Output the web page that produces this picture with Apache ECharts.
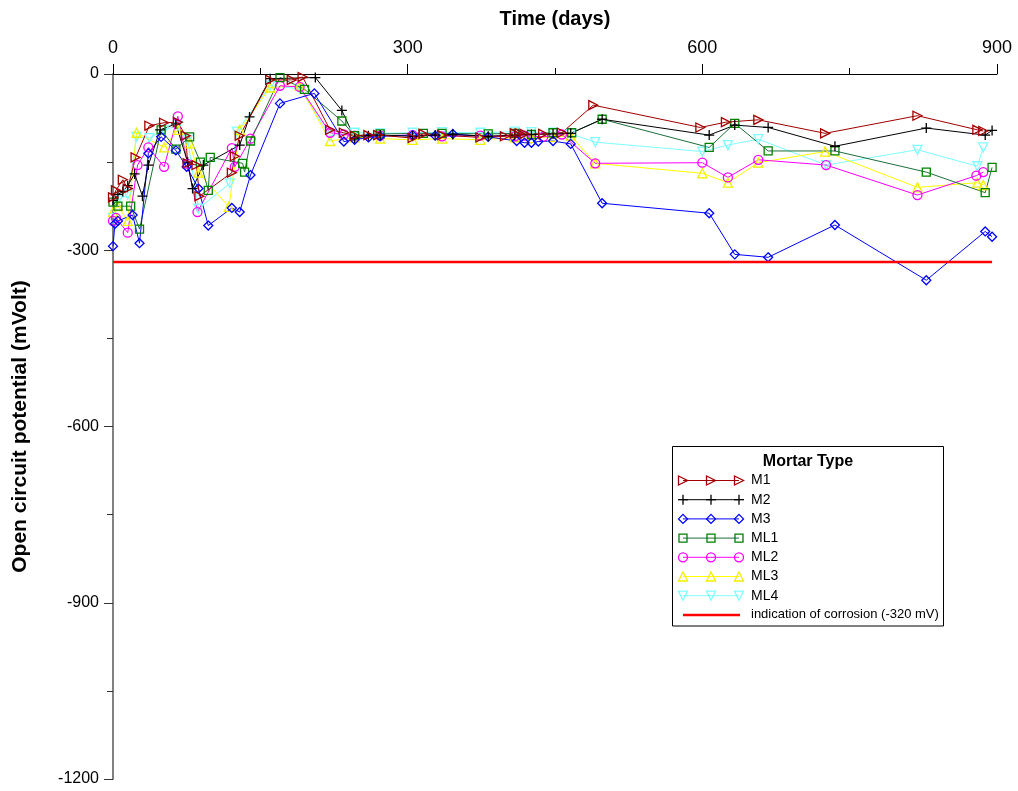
<!DOCTYPE html>
<html><head><meta charset="utf-8">
<script src="https://cdn.jsdelivr.net/npm/echarts@6/dist/echarts.min.js"></script>
<style>html,body{margin:0;padding:0;background:#fff}#c{width:1018px;height:791px}</style>
</head><body><div id="c"></div>
<script>
// ---- data ----
const xTicks = [0, 300, 600, 900];
const yTicks = [0, -300, -600, -900, -1200];
const seriesNames = ['M1', 'M2', 'M3', 'ML1', 'ML2', 'ML3', 'ML4'];
const legendTitle = 'Mortar Type';
const corrosionLabel = 'indication of corrosion (-320 mV)';
const corrosionLimit = -320;
const corrosionDays = [0, 895];

const m1Days = [0,3,10,15,23,37,52,66,74,76,85,88,121,124,129,160,182,193,221,235,246,260,270,305,316,335,374,399,409,414,419,438,457,489,598,624,657,725,819,880,886];
const m1Values = [-210,-198,-180,-195,-142,-88,-83,-82,-105,-152,-155,-208,-168,-140,-105,-10,-10,-5,-95,-100,-105,-104,-104,-109,-102,-104,-108,-106,-101,-101,-102,-102,-100,-53,-91,-82,-78,-101,-71,-95,-97];

const m2Days = [0,5,10,15,22,30,36,48,64,76,81,92,129,139,160,206,233,246,260,272,305,328,346,382,409,426,448,466,498,607,633,667,735,828,888,895];
const m2Values = [-215,-205,-200,-190,-170,-208,-155,-95,-85,-150,-195,-155,-121,-73,-8,-6,-62,-109,-105,-104,-106,-104,-103,-106,-104,-103,-102,-101,-77,-104,-87,-91,-123,-92,-104,-96];

const m3Days = [0,2,5,20,27,36,49,64,75,87,97,121,129,140,170,205,235,246,260,272,305,328,346,382,411,419,426,433,448,466,498,607,633,667,735,828,888,895];
const m3Values = [-293,-255,-250,-240,-288,-135,-107,-130,-158,-195,-258,-228,-235,-172,-50,-33,-115,-112,-108,-106,-104,-105,-102,-107,-114,-117,-117,-115,-114,-119,-220,-237,-307,-312,-257,-351,-268,-277];

const ml1Days = [0,5,18,27,49,64,78,89,97,99,132,134,140,170,195,233,246,272,316,335,382,409,426,448,467,498,607,633,667,735,828,888,895];
const ml1Values = [-218,-225,-225,-264,-95,-128,-107,-150,-198,-142,-152,-167,-114,-6,-26,-80,-105,-102,-101,-101,-102,-101,-103,-100,-100,-77,-125,-84,-131,-131,-167,-202,-159];

const ml2Days = [0,3,15,25,36,52,66,76,86,121,124,140,170,190,221,235,246,272,305,335,374,409,419,438,457,491,600,626,657,726,819,879,886];
const ml2Values = [-250,-245,-270,-155,-125,-158,-72,-153,-235,-126,-158,-110,-20,-22,-100,-103,-105,-105,-104,-106,-105,-106,-105,-107,-103,-152,-151,-176,-146,-155,-206,-173,-167];

const ml3Days = [0,5,15,24,52,66,78,87,118,129,160,190,221,246,272,305,335,374,409,426,448,466,491,600,626,657,725,819,880,886];
const ml3Values = [-235,-225,-250,-100,-125,-95,-118,-168,-226,-95,-23,-20,-114,-108,-110,-112,-110,-112,-108,-109,-107,-105,-152,-169,-185,-151,-132,-193,-185,-189];

const ml4Days = [0,5,15,24,37,52,66,76,87,119,126,160,190,221,246,272,305,335,374,409,426,448,466,491,600,626,657,726,819,880,886];
const ml4Values = [-245,-215,-205,-107,-109,-95,-88,-112,-229,-186,-98,-20,-25,-105,-100,-101,-100,-99,-100,-98,-99,-100,-102,-116,-132,-121,-111,-155,-129,-157,-125];

// ---- styles ----
const FONT = '"Liberation Sans", Arial, sans-serif';
const seriesDays = [m1Days, m2Days, m3Days, ml1Days, ml2Days, ml3Days, ml4Days];
const seriesValues = [m1Values, m2Values, m3Values, ml1Values, ml2Values, ml3Values, ml4Values];
const styles = [
  {color:'#a00000', line:'#a00000', symbol:'triangle', rotate:-90, size:9, kind:'triR'},
  {color:'#000000', line:'#000000', symbol:'path://M0,5L10,5M5,0L5,10', rotate:0, size:10, kind:'plus'},
  {color:'#0000ff', line:'#0000ff', symbol:'diamond', rotate:0, size:9, kind:'diamond'},
  {color:'#008000', line:'#1e6e3c', symbol:'rect', rotate:0, size:8, kind:'rect'},
  {color:'#ff00ff', line:'#ff00ff', symbol:'circle', rotate:0, size:9, kind:'circle'},
  {color:'#f0f000', line:'#ffff00', symbol:'triangle', rotate:0, size:9, kind:'triU'},
  {color:'#80ffff', line:'#80ffff', symbol:'triangle', rotate:180, size:9, kind:'triD'}
];

const series = [];
for (let k = seriesNames.length - 1; k >= 0; k--) {
  const st = styles[k];
  series.push({
    name: seriesNames[k], type: 'line', clip: false,
    data: seriesDays[k].map((d, i) => [d, seriesValues[k][i]]),
    symbol: st.symbol, symbolSize: st.size, symbolRotate: st.rotate,
    itemStyle: {color: 'rgba(0,0,0,0)', borderColor: st.color, borderWidth: 1.3},
    lineStyle: {color: st.line, width: 1},
    emphasis: {disabled: true}, z: 3
  });
}
series.push({
  name: 'corrosion', type: 'line', symbol: 'none',
  data: corrosionDays.map(d => [d, corrosionLimit]),
  lineStyle: {color: '#ff0000', width: 2.5}, z: 6, emphasis: {disabled: true}
});

// ---- legend drawn with graphic ----
function markerShapes(kind, cx, cy, s, color) {
  const h = s / 2;
  const st = {fill: 'rgba(0,0,0,0)', stroke: color, lineWidth: 1.3};
  switch (kind) {
    case 'triR': return [{type:'polygon', shape:{points:[[cx-h,cy-h],[cx+h,cy],[cx-h,cy+h]]}, style:st}];
    case 'triU': return [{type:'polygon', shape:{points:[[cx,cy-h],[cx+h,cy+h],[cx-h,cy+h]]}, style:st}];
    case 'triD': return [{type:'polygon', shape:{points:[[cx-h,cy-h],[cx+h,cy-h],[cx,cy+h]]}, style:st}];
    case 'diamond': return [{type:'polygon', shape:{points:[[cx,cy-h],[cx+h,cy],[cx,cy+h],[cx-h,cy]]}, style:st}];
    case 'rect': return [{type:'rect', shape:{x:cx-h,y:cy-h,width:s,height:s}, style:st}];
    case 'circle': return [{type:'circle', shape:{cx:cx,cy:cy,r:h}, style:st}];
    case 'plus': return [
      {type:'line', shape:{x1:cx-h,y1:cy,x2:cx+h,y2:cy}, style:{stroke:color,lineWidth:1.3}},
      {type:'line', shape:{x1:cx,y1:cy-h,x2:cx,y2:cy+h}, style:{stroke:color,lineWidth:1.3}}];
  }
}
const lg = [];
lg.push({type:'rect', shape:{x:672.5,y:446.5,width:271,height:179.5}, style:{fill:'#fff', stroke:'#000', lineWidth:1}, z:10});
lg.push({type:'text', x:808, y:462, style:{text:legendTitle, font:'bold 16px ' + FONT, fill:'#000', align:'center', verticalAlign:'middle', textAlign:'center', textVerticalAlign:'middle'}, z:11});
const rowY0 = 480.5, rowStep = 19.2, mx = [683, 711, 739];
seriesNames.forEach((nm, k) => {
  const y = rowY0 + k * rowStep, st = styles[k];
  lg.push({type:'line', shape:{x1:683,y1:y,x2:739,y2:y}, style:{stroke:st.line, lineWidth:1}, z:11});
  mx.forEach(x => { markerShapes(st.kind, x, y, st.size, st.color).forEach(m => { m.z = 12; lg.push(m); }); });
  lg.push({type:'text', x:751, y:y, style:{text:nm, font:'14px ' + FONT, fill:'#000', verticalAlign:'middle', textVerticalAlign:'middle'}, z:11});
});
const cy = rowY0 + 7 * rowStep;
lg.push({type:'line', shape:{x1:683,y1:cy,x2:740,y2:cy}, style:{stroke:'#ff0000', lineWidth:2.5}, z:11});
lg.push({type:'text', x:751, y:cy, style:{text:corrosionLabel, font:'13px ' + FONT, fill:'#000', verticalAlign:'middle', textVerticalAlign:'middle'}, z:11});

const chart = echarts.init(document.getElementById('c'), null, {renderer: 'canvas'});
chart.setOption({
  animation: false,
  backgroundColor: '#fff',
  textStyle: {fontFamily: FONT},
  grid: {left: 113, top: 74, right: 21, bottom: 12, containLabel: false},
  xAxis: {
    type: 'value', position: 'top', min: xTicks[0], max: xTicks[xTicks.length - 1], interval: xTicks[1] - xTicks[0],
    name: 'Time (days)', nameLocation: 'middle', nameGap: 45,
    nameTextStyle: {fontFamily: FONT, fontSize: 20, fontWeight: 'bold', color: '#000'},
    axisLine: {onZero: false, lineStyle: {color: '#000', width: 1}},
    axisTick: {show: true, length: 10, lineStyle: {color: '#000'}},
    minorTick: {show: true, splitNumber: 2, length: 6, lineStyle: {color: '#000'}},
    axisLabel: {margin: 17, fontSize: 18, color: '#000', fontFamily: FONT, formatter: v => String(v)},
    splitLine: {show: false}
  },
  yAxis: {
    type: 'value', min: yTicks[yTicks.length - 1], max: yTicks[0], interval: yTicks[0] - yTicks[1],
    name: 'Open circuit potential (mVolt)', nameLocation: 'middle', nameGap: 82,
    nameTextStyle: {fontFamily: FONT, fontSize: 21, fontWeight: 'bold', color: '#000'},
    axisLine: {show: true, onZero: false, lineStyle: {color: '#808080', width: 2}},
    axisTick: {show: true, length: 9, lineStyle: {color: '#333'}},
    minorTick: {show: true, splitNumber: 2, length: 6, lineStyle: {color: '#333'}},
    axisLabel: {margin: 14, fontSize: 16, color: '#000', fontFamily: FONT, formatter: v => String(v)},
    splitLine: {show: false}
  },
  series: series,
  graphic: {elements: lg}
});
</script>
</body></html>
